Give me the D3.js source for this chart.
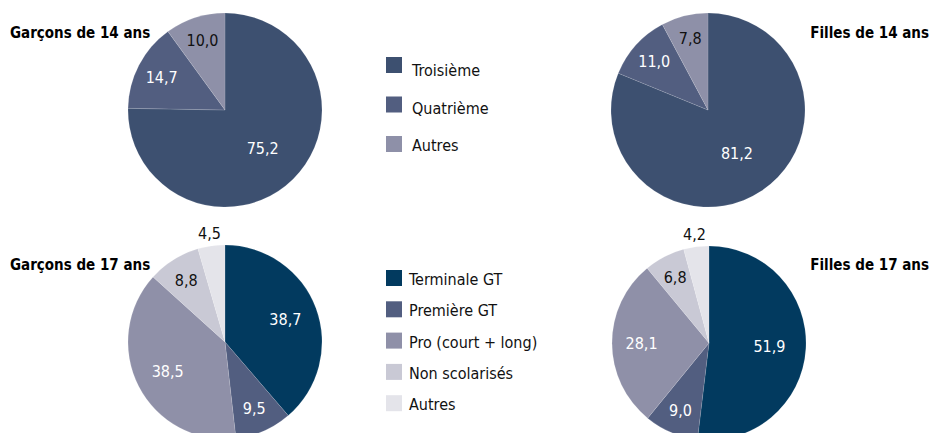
<!DOCTYPE html>
<html>
<head>
<meta charset="utf-8">
<title>Pies</title>
<script src="https://cdnjs.cloudflare.com/ajax/libs/d3/7.8.5/d3.min.js"></script>
<style>
body { margin: 0; background: #fff; }
svg text { font-family: "Liberation Sans Narrow", "DejaVu Sans Condensed", "Roboto", sans-serif; font-stretch: condensed; }
.title { font-weight: bold; font-size: 15px; fill: #000; }
.lbl { font-size: 16px; }
.leg { font-size: 16px; fill: #111; }
</style>
</head>
<body>
<svg width="932" height="433"></svg>
<script>
// categories
var topCats = ["Troisième", "Quatrième", "Autres"];
var bottomCats = ["Terminale GT", "Première GT", "Pro (court + long)", "Non scolarisés", "Autres"];

// values (%)
var boys14 = [75.2, 14.7, 10.0];
var girls14 = [81.2, 11.0, 7.8];
var boys17 = [38.7, 9.5, 38.5, 8.8, 4.5];
var girls17 = [51.9, 9.0, 28.1, 6.8, 4.2];

var topColors = ["#3d5070", "#525e80", "#8e90a8"];
var bottomColors = ["#023a5f", "#525e80", "#8f90a8", "#c9c9d5", "#e4e4ea"];
var topText = ["#fff", "#fff", "#111"];
var bottomText = ["#fff", "#fff", "#fff", "#111", "#111"];

var svg = d3.select("svg");
var R = 97;
var fmt = function(v) { return d3.format(".1f")(v).replace(".", ","); };

var pie = d3.pie().sort(null).value(function(d) { return d.v; });
var arc = d3.arc().innerRadius(0).outerRadius(R);

function drawPie(cx, cy, vals, colors, textCols) {
  var data = vals.map(function(v, i) { return {v: v, i: i}; });
  var g = svg.append("g").attr("transform", "translate(" + cx + "," + cy + ")");
  var arcs = pie(data);
  g.selectAll("path")
    .data(arcs)
    .enter().append("path")
    .attr("d", arc)
    .attr("fill", function(d) { return colors[d.data.i]; })
    .attr("stroke", "#fff")
    .attr("stroke-width", 0.4)
    .attr("stroke-opacity", 0.3);

  // small slices get their label pushed out a bit, < 5% goes outside
  g.selectAll("text")
    .data(arcs)
    .enter().append("text")
    .attr("class", "lbl")
    .attr("text-anchor", "middle")
    .attr("dy", "0.35em")
    .attr("fill", function(d) { return d.data.v < 5 ? "#111" : textCols[d.data.i]; })
    .attr("transform", function(d) {
      var f = d.data.v / 100;
      var r = d.data.v < 5 ? R + 13 : R * (0.78 - 0.3 * f);
      var a = (d.startAngle + d.endAngle) / 2;
      return "translate(" + (Math.sin(a) * r) + "," + (-Math.cos(a) * r) + ")";
    })
    .text(function(d) { return fmt(d.data.v); });
}

drawPie(225, 110, boys14, topColors, topText);
drawPie(708, 110, girls14, topColors, topText);
drawPie(225, 342, boys17, bottomColors, bottomText);
drawPie(709, 343, girls17, bottomColors, bottomText);

// titles
svg.append("text").attr("class", "title").attr("x", 10).attr("y", 38).text("Garçons de 14 ans");
svg.append("text").attr("class", "title").attr("x", 929).attr("y", 38).attr("text-anchor", "end").text("Filles de 14 ans");
svg.append("text").attr("class", "title").attr("x", 10).attr("y", 270).text("Garçons de 17 ans");
svg.append("text").attr("class", "title").attr("x", 929).attr("y", 270).attr("text-anchor", "end").text("Filles de 17 ans");

// legends
var leg1 = svg.append("g").attr("transform", "translate(386,57)");
leg1.selectAll("rect").data(topCats).enter().append("rect")
  .attr("x", 0).attr("y", function(d, i) { return i * 39.5; })
  .attr("width", 16).attr("height", 16)
  .attr("fill", function(d, i) { return topColors[i]; });
leg1.selectAll("text").data(topCats).enter().append("text")
  .attr("class", "leg")
  .attr("x", 26).attr("y", function(d, i) { return i * 37.5 + 19; })
  .text(function(d) { return d; });

var leg2 = svg.append("g").attr("transform", "translate(386,270)");
leg2.selectAll("rect").data(bottomCats).enter().append("rect")
  .attr("x", 0).attr("y", function(d, i) { return i * 31.3; })
  .attr("width", 16).attr("height", 16)
  .attr("fill", function(d, i) { return bottomColors[i]; });
leg2.selectAll("text").data(bottomCats).enter().append("text")
  .attr("class", "leg")
  .attr("x", 23).attr("y", function(d, i) { return i * 31.3 + 15; })
  .text(function(d) { return d; });
</script>
</body>
</html>
